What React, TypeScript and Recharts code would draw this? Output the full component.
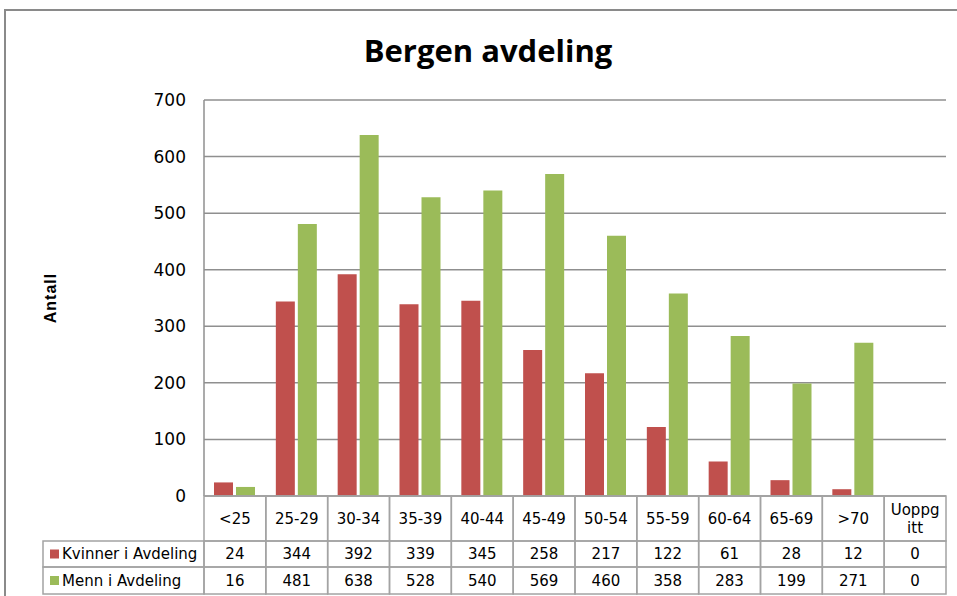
import React from 'react';
import { BarChart, Bar, XAxis, YAxis, CartesianGrid } from 'recharts';

const categories = ['<25', '25-29', '30-34', '35-39', '40-44', '45-49', '50-54', '55-59', '60-64', '65-69', '>70', 'Uoppgitt'];
const kvinner = [24, 344, 392, 339, 345, 258, 217, 122, 61, 28, 12, 0];
const menn = [16, 481, 638, 528, 540, 569, 460, 358, 283, 199, 271, 0];
const seriesNames = ['Kvinner i Avdeling', 'Menn i Avdeling'];
const yTicks = [0, 100, 200, 300, 400, 500, 600, 700];

const RED = '#c0504d';
const GREEN = '#9bbb59';
const GRID = '#8f8f8f';
const CELL = '#a3a3a3';
const FONT = '"DejaVu Sans", sans-serif';

const W = 957;
const H = 596;
const MARGIN = { top: 100, right: 11, left: 144, bottom: 2 };
const Y_AXIS_W = 60;
const PLOT_W = W - MARGIN.left - MARGIN.right - Y_AXIS_W;
const BAND = PLOT_W / categories.length;
const HEAD_H = 45;
const ROW_H = [26, 27];
const LEGEND_W = 161;

const data = categories.map((c, i) => ({ cat: c, kvinner: kvinner[i], menn: menn[i] }));

// x axis ticks are drawn as the columns of the data table
const TableTick = (props: any) => {
  const { x, y, payload } = props;
  const index = props.index ?? payload.index;
  const left = x - BAND / 2;
  const label = String(payload.value);
  const lines = label.length > 6 ? [label.slice(0, 5), label.slice(5)] : [label];
  const values = [kvinner[index], menn[index]];
  const colors = [RED, GREEN];
  let rowTop = y + HEAD_H;

  return (
    <g fontFamily={FONT} fontSize={15} fill="#000">
      <rect x={left} y={y} width={BAND} height={HEAD_H} fill="none" stroke={CELL} strokeWidth={1.5} />
      {lines.map((l, k) => (
        <text
          key={k}
          x={x}
          y={y + HEAD_H / 2 + (k - (lines.length - 1) / 2) * 18}
          textAnchor="middle"
          dominantBaseline="central"
          fill="#000"
        >
          {l}
        </text>
      ))}
      {values.map((v, r) => {
        const top = rowTop;
        rowTop += ROW_H[r];
        return (
          <g key={r}>
            <rect x={left} y={top} width={BAND} height={ROW_H[r]} fill="none" stroke={CELL} strokeWidth={1.5} />
            <text x={x} y={top + ROW_H[r] / 2} textAnchor="middle" dominantBaseline="central" fill="#000">
              {v}
            </text>
            {index === 0 && (
              <g>
                <rect x={left - LEGEND_W} y={top} width={LEGEND_W} height={ROW_H[r]} fill="none" stroke={CELL} strokeWidth={1.5} />
                <rect x={left - LEGEND_W + 7} y={top + ROW_H[r] / 2 - 4.5} width={9} height={9} fill={colors[r]} />
                <text x={left - LEGEND_W + 19} y={top + ROW_H[r] / 2} dominantBaseline="central" fill="#000">
                  {seriesNames[r]}
                </text>
              </g>
            )}
          </g>
        );
      })}
    </g>
  );
};

const AntallLabel = (props: any) => {
  const { viewBox } = props;
  const cx = viewBox.x - 94;
  const cy = viewBox.y + viewBox.height / 2;
  return (
    <text
      x={cx}
      y={cy}
      transform={`rotate(-90, ${cx}, ${cy})`}
      textAnchor="middle"
      dominantBaseline="central"
      fontFamily="'Liberation Sans', Arial, sans-serif"
      fontWeight="bold"
      fontSize={16}
      letterSpacing={1}
      fill="#000"
    >
      Antall
    </text>
  );
};

export default function App() {
  return (
    <div style={{ position: 'absolute', left: 0, top: 0, width: W, height: H, overflow: 'hidden', background: '#fff' }}>
      <svg width={W} height={H} style={{ position: 'absolute', left: 0, top: 0 }}>
        <path d={`M5,${H + 5} L5,10 L${W + 5},10`} fill="none" stroke="#8a8a8a" strokeWidth={2} />
        <text
          x={488}
          y={62}
          textAnchor="middle"
          fontFamily="'Open Sans', sans-serif"
          fontWeight="bold"
          fontSize={31}
          fill="#000"
        >
          Bergen avdeling
        </text>
      </svg>
      <div style={{ position: 'absolute', left: 0, top: 0 }}>
        <BarChart width={W} height={H} data={data} margin={MARGIN} barSize={19} barGap={3}>
          <CartesianGrid vertical={false} stroke={GRID} strokeWidth={1.5} />
          <XAxis
            dataKey="cat"
            height={HEAD_H + ROW_H[0] + ROW_H[1]}
            tickLine={false}
            tickSize={0}
            tickMargin={0}
            axisLine={{ stroke: CELL, strokeWidth: 1.5 }}
            interval={0}
            tick={<TableTick />}
          />
          <YAxis
            width={Y_AXIS_W}
            domain={[0, 700]}
            ticks={yTicks}
            interval={0}
            tickLine={false}
            tickMargin={12}
            axisLine={{ stroke: GRID, strokeWidth: 1.5 }}
            tick={{ fontSize: 17, fontFamily: FONT, fill: '#000' }}
            label={{ content: <AntallLabel /> }}
          />
          <Bar dataKey="kvinner" name={seriesNames[0]} fill={RED} isAnimationActive={false} />
          <Bar dataKey="menn" name={seriesNames[1]} fill={GREEN} isAnimationActive={false} />
        </BarChart>
      </div>
    </div>
  );
}
